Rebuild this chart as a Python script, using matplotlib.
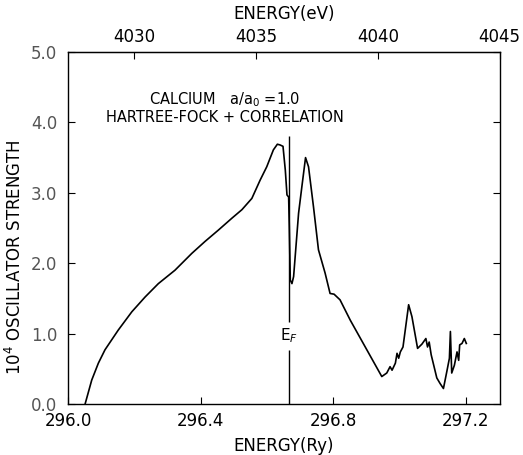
import matplotlib
matplotlib.use("Agg")
import matplotlib.pyplot as plt
import numpy as np

# energy in Ry and 10^4 x oscillator strength
energy_ry = [296.051, 296.071, 296.091, 296.111, 296.131, 296.151, 296.192,
             296.232, 296.272, 296.322, 296.373, 296.413, 296.453, 296.494,
             296.524, 296.554, 296.579, 296.599, 296.619, 296.631, 296.639,
             296.648, 296.655, 296.660, 296.665, 296.667, 296.670, 296.675,
             296.680, 296.695, 296.705, 296.716, 296.725, 296.740, 296.755,
             296.775, 296.790, 296.802, 296.820, 296.851, 296.946, 296.961,
             296.971, 296.977, 296.987, 296.992, 296.997, 297.002, 297.010,
             297.027, 297.037, 297.054, 297.067, 297.079, 297.084, 297.089,
             297.095, 297.112, 297.122, 297.132, 297.143, 297.150, 297.153,
             297.157, 297.165, 297.173, 297.178, 297.181, 297.188, 297.195,
             297.201]
strength = [0.00, 0.34, 0.58, 0.77, 0.91, 1.05, 1.31,
            1.52, 1.71, 1.90, 2.14, 2.31, 2.47, 2.64,
            2.76, 2.92, 3.18, 3.37, 3.61, 3.69, 3.68,
            3.66, 3.32, 2.97, 2.94, 2.52, 1.76, 1.71,
            1.81, 2.71, 3.09, 3.50, 3.37, 2.80, 2.19,
            1.86, 1.57, 1.56, 1.48, 1.19, 0.39, 0.44,
            0.53, 0.48, 0.58, 0.72, 0.65, 0.74, 0.81,
            1.41, 1.24, 0.79, 0.85, 0.93, 0.81, 0.88,
            0.70, 0.37, 0.29, 0.22, 0.48, 0.65, 1.03,
            0.44, 0.55, 0.74, 0.62, 0.84, 0.86, 0.93,
            0.86]

fermi_ry = 296.667
x_ticks = [296.0, 296.4, 296.8, 297.2]
x_ticklabels = ["296.0", "296.4", "296.8", "297.2"]
ev_ticks = [4030, 4035, 4040, 4045]
y_ticks = [0, 1, 2, 3, 4, 5]
y_ticklabels = ["0.0", "1.0", "2.0", "3.0", "4.0", "5.0"]

RY_EV = 13.6057

fig = plt.figure(figsize=(5.23, 4.55), dpi=100)
ax = fig.add_axes([0.1304, 0.1121, 0.8256, 0.7736])

ax.plot(energy_ry, strength, color="black", lw=1.2)

# Fermi level marker with a gap for its label
ax.vlines(fermi_ry, 0, 0.76, color="black", lw=1.0)
ax.vlines(fermi_ry, 1.17, 3.80, color="black", lw=1.0)
ax.text(fermi_ry, 0.97, "E$_F$", ha="center", va="center", fontsize=11)

ax.text(296.473, 4.33, "CALCIUM   a/a$_0$ =1.0", ha="center", va="center",
        fontsize=10.5)
ax.text(296.473, 4.07, "HARTREE-FOCK + CORRELATION", ha="center",
        va="center", fontsize=10.5)

# right edge sits at 4045 eV on the top scale
ax.set_xlim(296.0, 4045.01 / RY_EV)
ax.set_ylim(0, 5.0)
ax.set_xticks(x_ticks)
ax.set_xticklabels(x_ticklabels)
ax.set_yticks(y_ticks)
ax.set_yticklabels(y_ticklabels)
ax.tick_params(direction="in", length=5, width=0.8, labelsize=12,
               right=True, top=False)
ax.tick_params(axis="x", pad=6)
ax.tick_params(axis="y", pad=8, labelcolor="#555555")

ax.set_xlabel("ENERGY(Ry)", fontsize=12, labelpad=5)
ax.set_ylabel("10$^4$ OSCILLATOR STRENGTH", fontsize=12)
ax.yaxis.set_label_coords(-0.10, 0.418)

top = ax.secondary_xaxis("top", functions=(lambda r: r * RY_EV,
                                           lambda e: e / RY_EV))
top.set_xticks(ev_ticks)
top.tick_params(direction="in", length=5, width=0.8, labelsize=12, pad=4)
top.set_xlabel("ENERGY(eV)", fontsize=12, labelpad=7)

for s in ax.spines.values():
    s.set_linewidth(1.0)

fig.savefig("out.png", dpi=100)
